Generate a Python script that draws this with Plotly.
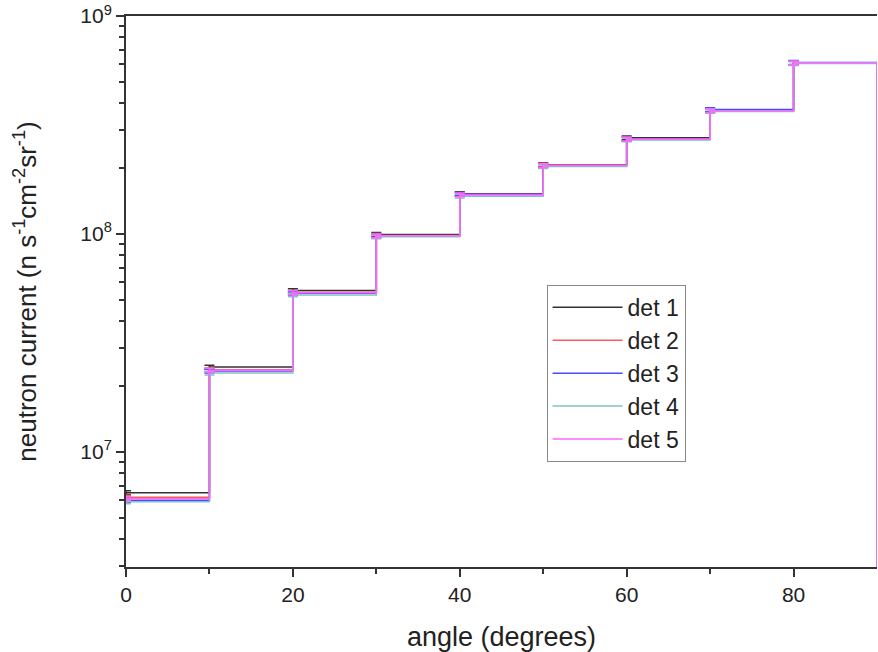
import plotly.graph_objects as go

# bin edges (degrees)
edges = [0, 10, 20, 30, 40, 50, 60, 70, 80, 90]
# neutron current per 10-degree bin for each detector
det1 = [6.5e6, 2.45e7, 5.5e7, 9.95e7, 1.53e8, 2.08e8, 2.76e8, 3.70e8, 6.1e8]
det2 = [6.2e6, 2.38e7, 5.4e7, 9.85e7, 1.52e8, 2.07e8, 2.73e8, 3.68e8, 6.1e8]
det3 = [6.0e6, 2.35e7, 5.35e7, 9.8e7, 1.52e8, 2.06e8, 2.72e8, 3.72e8, 6.12e8]
det4 = [5.9e6, 2.30e7, 5.25e7, 9.7e7, 1.49e8, 2.04e8, 2.70e8, 3.65e8, 6.05e8]
det5 = [6.1e6, 2.37e7, 5.38e7, 9.8e7, 1.51e8, 2.06e8, 2.72e8, 3.68e8, 6.1e8]
rel_err = 0.02

names = ["det 1", "det 2", "det 3", "det 4", "det 5"]
series = [det1, det2, det3, det4, det5]
colors = ["#333333", "#ff5a5a", "#4a4aff", "#7fc4c4", "#ff66ff"]

y_log_range = [6.472, 9.0]
y_floor = 10 ** y_log_range[0]

fig = go.Figure()
for name, vals, col in zip(names, series, colors):
    xs = list(edges) + [edges[-1]]
    ys = list(vals) + [vals[-1], y_floor]
    fig.add_trace(go.Scatter(
        x=xs, y=ys, mode="lines", line=dict(shape="hv", color=col, width=1.5),
        name=name, cliponaxis=True,
    ))
    fig.add_trace(go.Scatter(
        x=edges[:-1], y=vals, mode="markers", marker=dict(size=1, color=col, opacity=0),
        error_y=dict(type="percent", value=rel_err * 100, color=col, thickness=1.5, width=5),
        showlegend=False, hoverinfo="skip",
    ))

minor_vals = [k * 10 ** n for n in range(6, 9) for k in range(2, 10)]

fig.update_layout(
    width=878, height=652,
    margin=dict(l=126, r=1, t=16, b=85),
    plot_bgcolor="white", paper_bgcolor="white",
    font=dict(family="Liberation Sans, Arial, sans-serif", size=20, color="#222"),
    showlegend=True,
    legend=dict(x=0.56, y=0.512, xanchor="left", yanchor="top",
                bordercolor="#888", borderwidth=1, bgcolor="white",
                font=dict(size=23), tracegroupgap=0, itemwidth=70),
    xaxis=dict(range=[0, 90], tickvals=[0, 20, 40, 60, 80], ticks="outside",
               ticklen=8, tickwidth=2, tickcolor="#333", tickfont=dict(size=21),
               minor=dict(tickvals=[10, 30, 50, 70], ticks="outside", ticklen=5, tickwidth=2, tickcolor="#333"),
               showline=True, linecolor="#333", linewidth=2, mirror=True,
               showgrid=False, zeroline=False,
               title=dict(text="angle (degrees)", font=dict(size=27), standoff=22)),
    yaxis=dict(type="log", range=y_log_range, tickvals=[1e7, 1e8, 1e9],
               ticktext=["10<sup>7</sup>", "10<sup>8</sup>", "10<sup>9</sup>"],
               ticks="outside", ticklen=8, tickwidth=2, tickcolor="#333", tickfont=dict(size=21),
               minor=dict(tickvals=minor_vals, ticks="outside", ticklen=5, tickwidth=2, tickcolor="#333"),
               showline=True, linecolor="#333", linewidth=2,
               showgrid=False, zeroline=False,
               title=dict(text="neutron current (n s<sup>-1</sup>cm<sup>-2</sup>sr<sup>-1</sup>)",
                          font=dict(size=26), standoff=36)),
)

fig.write_html("out.html")
